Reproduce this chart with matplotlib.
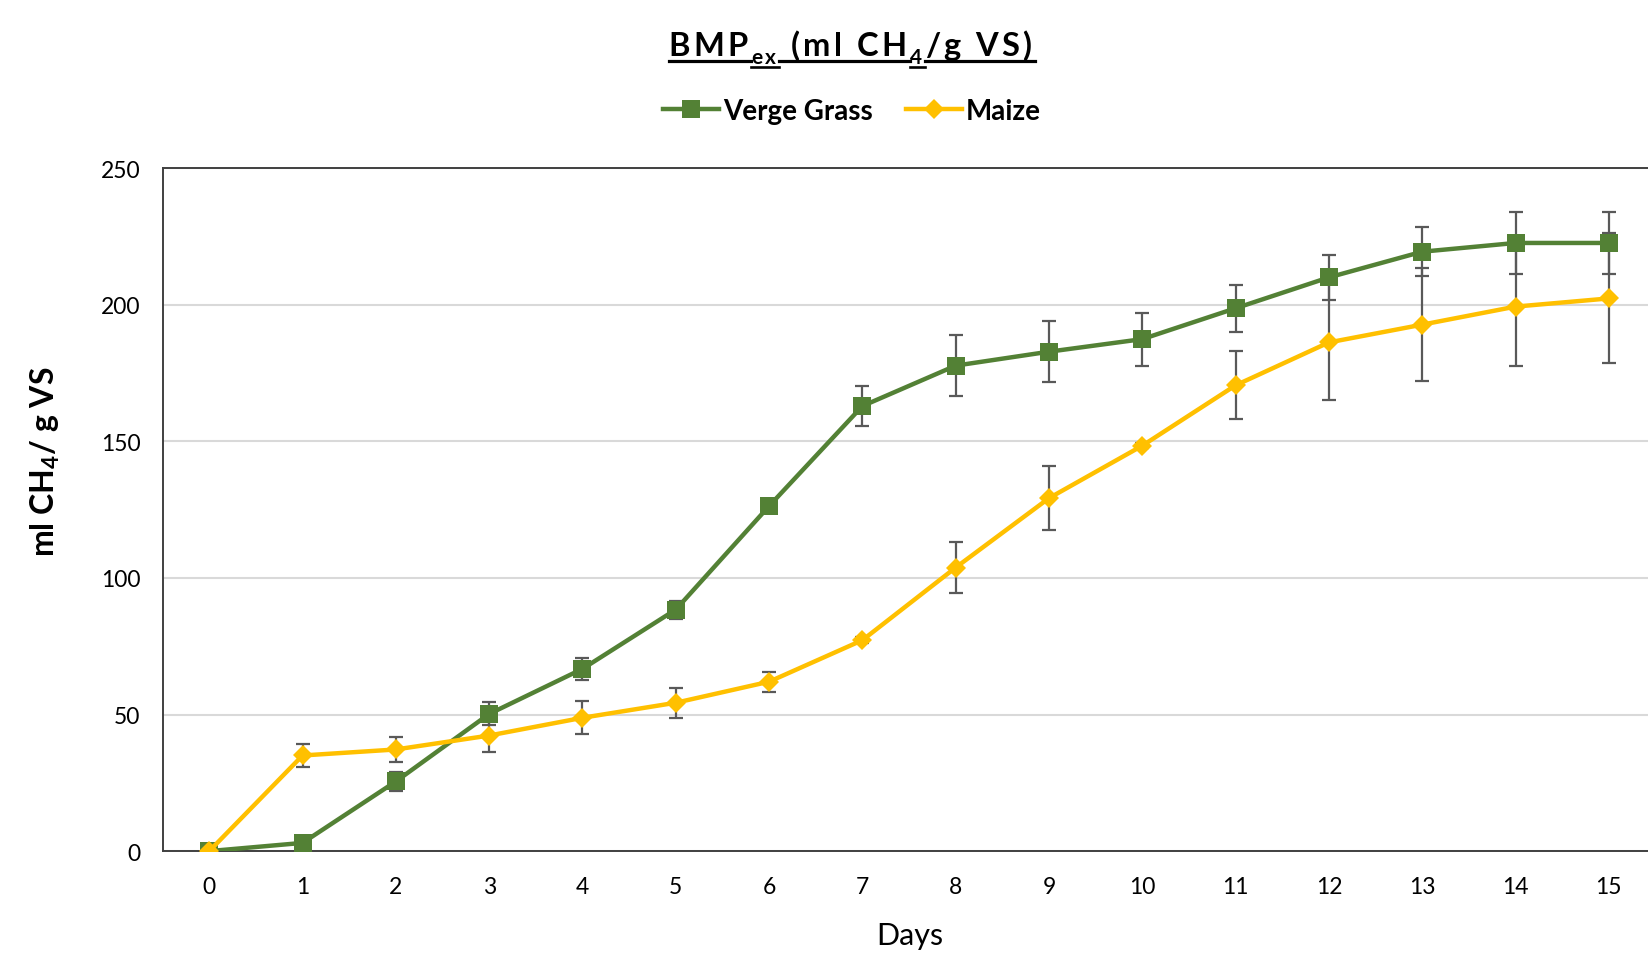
import matplotlib
matplotlib.use("Agg")
import matplotlib.pyplot as plt
from matplotlib.lines import Line2D
from matplotlib.transforms import IdentityTransform

# ---------------- data ----------------
days = list(range(16))
verge_grass = [0, 3.0, 25.5, 50.2, 66.7, 88.4, 126.3, 162.9, 177.7, 182.8,
               187.4, 198.7, 210.0, 219.4, 222.6, 222.6]
verge_err = [0, 0.8, 3.4, 4.2, 4.0, 3.3, 2.0, 7.4, 11.3, 11.1,
             9.7, 8.6, 8.2, 9.0, 11.3, 11.3]
maize = [0, 35.0, 37.2, 42.3, 48.8, 54.3, 62.0, 77.2, 103.8, 129.2,
         148.4, 170.5, 186.2, 192.7, 199.3, 202.3]
maize_err = [0, 4.3, 4.6, 6.1, 6.1, 5.4, 3.7, 1.0, 9.2, 11.6,
             1.0, 12.5, 21.2, 20.8, 21.9, 23.8]
y_ticks = [0, 50, 100, 150, 200, 250]
series_names = ["Verge Grass", "Maize"]

GREEN = "#538135"
YELLOW = "#FFC000"
ERR = "#595959"
FONT = "Lato"

plt.rcParams["font.family"] = [FONT, "DejaVu Sans"]
plt.rcParams["mathtext.fontset"] = "custom"
plt.rcParams["mathtext.rm"] = FONT
plt.rcParams["mathtext.bf"] = FONT + ":bold"

W, H = 1649, 954
fig = plt.figure(figsize=(W / 100, H / 100), dpi=100)

left, right, top, bottom = 162.6, 1655.5, 169.1, 852.1
ax = fig.add_axes([left / W, 1 - bottom / H, (right - left) / W, (bottom - top) / H])

ax.errorbar(days, verge_grass, yerr=verge_err, fmt="none", ecolor=ERR,
            elinewidth=1.6, capsize=5, capthick=1.6, zorder=2)
ax.errorbar(days, maize, yerr=maize_err, fmt="none", ecolor=ERR,
            elinewidth=1.6, capsize=5, capthick=1.6, zorder=2)
ax.plot(days, verge_grass, color=GREEN, lw=3.2, marker="s", ms=12.5,
        markeredgewidth=0, zorder=3, label=series_names[0])
ax.plot(days, maize, color=YELLOW, lw=3.2, marker="D", ms=10,
        markeredgewidth=0, zorder=4, label=series_names[1])

ax.set_xlim(-0.5, 15.5)
ax.set_ylim(0, 250)
ax.set_xticks(days)
ax.set_xticklabels([str(d) for d in days])
ax.set_yticks(y_ticks)
ax.set_yticklabels([str(v) for v in y_ticks])
ax.tick_params(axis="both", length=0, labelsize=16.5, colors="black")
ax.tick_params(axis="x", pad=18)
ax.tick_params(axis="y", pad=16)
ax.grid(axis="y", color="#d9d9d9", lw=1.5, zorder=0)
ax.set_axisbelow(True)
for s in ax.spines.values():
    s.set_color("#404040")
    s.set_linewidth(1.4)

# axis labels
fig.text(45 / W, 1 - 462 / H, r"ml CH$_\mathregular{4}$/ g VS", rotation=90,
         ha="center", va="center", fontsize=23, fontweight="bold")
fig.text(910 / W, 1 - 945 / H, "Days", ha="center", va="baseline", fontsize=22)

# legend
leg = fig.legend(loc="center", bbox_to_anchor=(852 / W, 1 - 112 / H), ncol=2,
                 frameon=False, prop={"family": FONT, "weight": "bold", "size": 20},
                 handlelength=2.0, handletextpad=0.15, columnspacing=1.2)

# title with subscripts, letter spacing and underline
renderer = fig.canvas.get_renderer()
pieces = [("BMP", 23.5, 0), ("ex", 15, -8), (" (ml CH", 23.5, 0), ("4", 15, -8), ("/g VS)", 23.5, 0)]
track = 3.2
base_y = H - 56  # pixel baseline (from bottom)

def char_width(c, size):
    if c == " ":
        return size * 100 / 72 * 0.26
    t = fig.text(0, 0, c, fontsize=size, fontweight="bold", fontstyle="normal",
                 transform=IdentityTransform())
    w = t.get_window_extent(renderer).width
    t.remove()
    return w

layout = []
x = 0.0
for txt, size, dy in pieces:
    start = x
    chars = []
    for c in txt:
        w = char_width(c, size)
        chars.append((c, x))
        x += w + track
    layout.append((start, x - track, chars, size, dy))
total = x - track
x0 = 850 - total / 2
for start, end, chars, size, dy in layout:
    for c, cx in chars:
        if c != " ":
            fig.text(x0 + cx, base_y + dy, c, fontsize=size, fontweight="bold",
                     fontstyle="normal", ha="left", va="baseline",
                     transform=IdentityTransform())
    uy = base_y + dy - (6 if size > 18 else 4)
    fig.add_artist(Line2D([x0 + start, x0 + end + track], [uy, uy], color="black",
                          lw=2.3 if size > 18 else 1.9, transform=IdentityTransform()))

fig.savefig("out.png", dpi=100)
